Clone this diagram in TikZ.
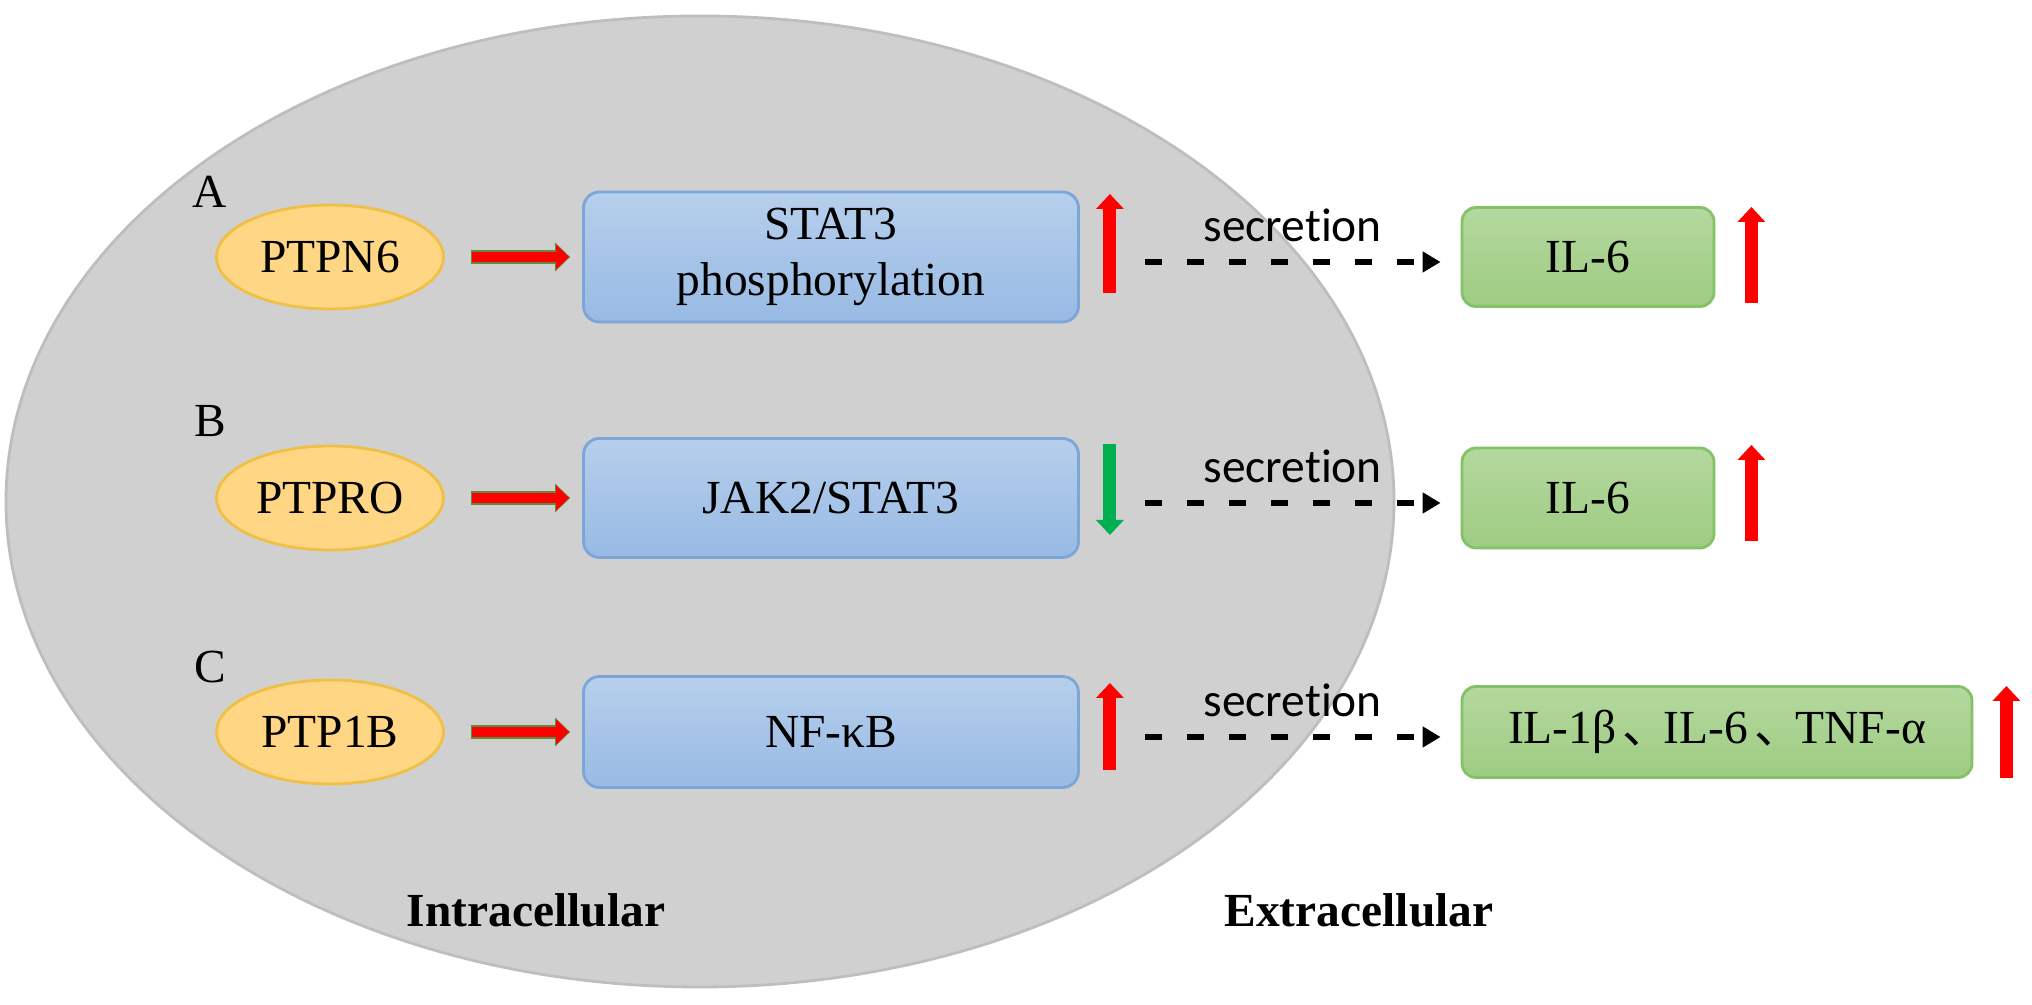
\documentclass[tikz,border=0pt]{standalone}
\usepackage{fontspec}
\setmainfont{Liberation Serif}
\newfontfamily\secfont[Ligatures={NoCommon,NoContextual}]{Carlito}
\newfontfamily\cjk{Noto Sans CJK SC}
\usepackage{tikz}
\usetikzlibrary{shapes.geometric,arrows.meta,calc}
\definecolor{cellgray}{RGB}{208,208,208}
\definecolor{celledge}{RGB}{190,190,190}
\definecolor{enzfill}{RGB}{255,214,132}
\definecolor{enzedge}{RGB}{240,192,70}
\definecolor{pathtop}{RGB}{182,207,236}
\definecolor{pathbot}{RGB}{152,186,228}
\definecolor{pathedge}{RGB}{124,166,216}
\definecolor{cyttop}{RGB}{180,216,158}
\definecolor{cytbot}{RGB}{158,204,130}
\definecolor{cytedge}{RGB}{132,194,104}
\definecolor{upred}{RGB}{255,0,0}
\definecolor{downgreen}{RGB}{0,176,80}
\definecolor{rimgreen}{RGB}{96,140,60}
\begin{document}
\begin{tikzpicture}[font=\fontsize{13.5}{16}\selectfont,
  enzyme/.style={ellipse,draw=enzedge,fill=enzfill,line width=0.8pt,
    minimum width=2.27cm,minimum height=1.04cm,inner sep=0pt},
  pathway/.style={rectangle,rounded corners=0.16cm,draw=pathedge,line width=0.8pt,
    top color=pathtop,bottom color=pathbot,minimum width=4.95cm,align=center,inner sep=0pt},
  cytokine/.style={rectangle,rounded corners=0.14cm,draw=cytedge,line width=0.8pt,
    top color=cyttop,bottom color=cytbot,minimum width=2.52cm,inner sep=0pt},
  actrim/.style={line width=4.0pt,rimgreen,shorten <=0.26cm,shorten >=0.12cm,
    -{Triangle[length=0.15cm,width=0.28cm]}},
  actcore/.style={line width=3.0pt,upred,shorten <=0.27cm,shorten >=0.13cm,
    -{Triangle[length=0.13cm,width=0.24cm]}},
  upmark/.style={line width=0.13cm,upred,-{Triangle[length=0.15cm,width=0.27cm]}},
  downmark/.style={line width=0.13cm,downgreen,-{Triangle[length=0.15cm,width=0.27cm]}},
  secreted/.style={line width=1.8pt,dash pattern=on 0.17cm off 0.25cm,
    -{Triangle[length=0.18cm,width=0.20cm]}},
  seclabel/.style={font=\secfont\fontsize{13.5}{16}\selectfont,above=0.05cm},
  panel/.style={inner sep=0pt},
  side/.style={font=\fontsize{13.5}{16}\selectfont\bfseries,inner sep=0pt}]
  \useasboundingbox (0,0) rectangle (20.32,10.05);
  % cell
  \fill[cellgray,draw=celledge,line width=0.8pt] (7.00,5.035) ellipse [x radius=6.94cm,y radius=4.855cm];

  % row A
  \node[panel] (labA) at (2.10,8.13) {A};
  \node[enzyme] (ptpn6) at (3.30,7.48) {PTPN6};
  \node[pathway,minimum height=1.30cm] (stat) at (8.31,7.48) {STAT3\\phosphorylation};
  \node[cytokine,minimum height=0.99cm] (ilA) at (15.88,7.48) {IL-6};

  % row B
  \node[panel] (labB) at (2.10,5.84) {B};
  \node[enzyme] (ptpro) at (3.30,5.07) {PTPRO};
  \node[pathway,minimum height=1.19cm] (jak) at (8.31,5.07) {JAK2/STAT3};
  \node[cytokine,minimum height=1.00cm] (ilB) at (15.88,5.07) {IL-6};

  % row C
  \node[panel] (labC) at (2.10,3.38) {C};
  \node[enzyme] (ptp1b) at (3.30,2.73) {PTP1B};
  \node[pathway,minimum height=1.11cm] (nfkb) at (8.31,2.73) {NF-κB};
  \node[cytokine,minimum height=0.91cm,minimum width=5.10cm] (ilC) at (17.17,2.73)
    {IL-1β\hspace{0.06cm}{\cjk 、}\hspace{-0.06cm}IL-6\hspace{0.06cm}{\cjk 、}\hspace{-0.06cm}TNF-α};

  \node[side] (intra) at (5.36,0.95) {Intracellular};
  \node[side] (extra) at (13.59,0.95) {Extracellular};

  % activation arrows
  \foreach \src/\dst in {ptpn6/stat,ptpro/jak,ptp1b/nfkb}{
    \draw[actrim] (\src.east) -- (\dst.west);
    \draw[actcore] (\src.east) -- (\dst.west);
  }

  % secretion
  \foreach \src/\dst in {stat/ilA,jak/ilB,nfkb/ilC}{
    \draw[secreted] ($(\src.east)+(0.65,-0.05)$) -- node[seclabel] {secret\kern0pt ion} ($(\dst.west)+(-0.20,-0.05)$);
  }

  % up / down marks
  \draw[upmark] ($(stat.east)+(0.30,-0.36)$) -- ($(stat.east)+(0.30,0.63)$);
  \draw[downmark] ($(jak.east)+(0.30,0.54)$) -- ($(jak.east)+(0.30,-0.37)$);
  \draw[upmark] ($(nfkb.east)+(0.30,-0.38)$) -- ($(nfkb.east)+(0.30,0.49)$);
  \draw[upmark] ($(ilA.east)+(0.36,-0.46)$) -- ($(ilA.east)+(0.36,0.50)$);
  \draw[upmark] ($(ilB.east)+(0.36,-0.43)$) -- ($(ilB.east)+(0.36,0.53)$);
  \draw[upmark] ($(ilC.east)+(0.33,-0.46)$) -- ($(ilC.east)+(0.33,0.46)$);
\end{tikzpicture}
\end{document}
